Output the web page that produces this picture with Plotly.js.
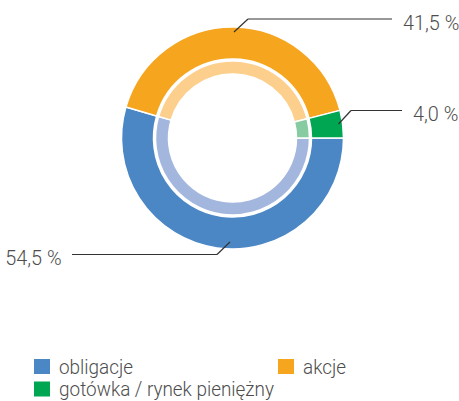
<!DOCTYPE html>
<html><head><meta charset="utf-8">
<script src="https://cdn.plot.ly/plotly-3.0.1.min.js"></script>
<style>html,body{margin:0;padding:0;background:#fff}#chart{width:459px;height:401px}</style>
</head><body><div id="chart"></div>
<script>
// data
const categories = ["obligacje", "akcje", "gotówka / rynek pieniężny"];
const values = [54.5, 41.5, 4.0];
const valueLabels = ["54,5 %", "41,5 %", "4,0 %"];
const outerColors = ["#4B87C5", "#F6A51F", "#00A651"];
const innerColors = ["#A3B7DE", "#FDCF8D", "#86CBA1"];

const W = 459, H = 401;
const px = x => x / W;
const py = y => 1 - y / H;
const FONT = "Roboto, 'Liberation Sans', sans-serif";
const TXT = "#4d4d4d";
const FS = 21;
const LFS = 20;

const cx = 232.5, cy = 138;
function dom(r) { return {x: [px(cx - r), px(cx + r)], y: [py(cy + r), py(cy - r)]}; }

const outer = {
  type: "pie", values: values, labels: categories, sort: false, direction: "clockwise",
  rotation: 90, hole: 79 / 111, domain: dom(111), textinfo: "none", hoverinfo: "none",
  marker: {colors: outerColors, line: {color: "#fff", width: 1.5}}, showlegend: false
};
const inner = {
  type: "pie", values: values, labels: categories, sort: false, direction: "clockwise",
  rotation: 90, hole: 64 / 77, domain: dom(77), textinfo: "none", hoverinfo: "none",
  marker: {colors: innerColors, line: {color: "#fff", width: 1.5}}, showlegend: false
};

const lineStyle = {color: "#333", width: 1.2};
function seg(x0, y0, x1, y1) {
  return {type: "line", xref: "paper", yref: "paper", x0: px(x0), y0: py(y0), x1: px(x1), y1: py(y1), line: lineStyle};
}
const shapes = [
  seg(230, 242, 217, 254.5), seg(217, 254.5, 72, 254.5),
  seg(234, 32, 248, 19), seg(248, 19, 392, 19),
  seg(338.5, 124, 351, 110.5), seg(351, 110.5, 402, 110.5)
];
const anchors = ["right", "left", "left", "left", "left", "left"];
const annotations = [
  {x: px(64), y: py(258), text: valueLabels[0]},
  {x: px(400.5), y: py(23), text: valueLabels[1]},
  {x: px(410.5), y: py(114), text: valueLabels[2]}
].map((a, i) => Object.assign(a, {xref: "paper", yref: "paper", xanchor: anchors[i], yanchor: "middle", showarrow: false,
  font: {family: FONT, size: FS, weight: 300, color: TXT}}));

// custom legend
const legendPos = [[34, 366.5], [278, 366.5], [34, 389]];
categories.forEach((c, i) => {
  const [lx, ly] = legendPos[i];
  shapes.push({type: "rect", xref: "paper", yref: "paper", x0: px(lx), x1: px(lx + 16),
    y0: py(ly + 7.5), y1: py(ly - 7.5), fillcolor: outerColors[i], line: {width: 0}});
  annotations.push({xref: "paper", yref: "paper", x: px(lx + 23), y: py(ly), xanchor: "left", yanchor: "middle",
    showarrow: false, text: c, font: {family: FONT, size: LFS, weight: 300, color: TXT}});
});

const layout = {
  width: W, height: H, margin: {l: 0, r: 0, t: 0, b: 0},
  paper_bgcolor: "#fff", plot_bgcolor: "#fff", showlegend: false,
  shapes: shapes, annotations: annotations
};
Plotly.newPlot("chart", [outer, inner], layout, {displayModeBar: false, staticPlot: true}).then(gd => {
  // condense the text horizontally to mimic the reference's condensed typeface
  const texts = gd.querySelectorAll("g.annotation text.annotation-text");
  let ref = null;
  texts.forEach(t => { if (t.textContent === categories[2]) ref = t; });
  const f = ref ? Math.min(1, 215 / ref.getComputedTextLength()) : 0.85;
  gd.querySelectorAll("g.annotation").forEach(g => {
    const i = +g.getAttribute("data-index");
    const t = g.querySelector("text.annotation-text");
    if (!t) return;
    t.style.transformBox = "fill-box";
    t.style.transformOrigin = (anchors[i] === "right" ? "right" : "left") + " center";
    t.style.transform = "scaleX(" + f + ")";
  });
});
</script></body></html>
